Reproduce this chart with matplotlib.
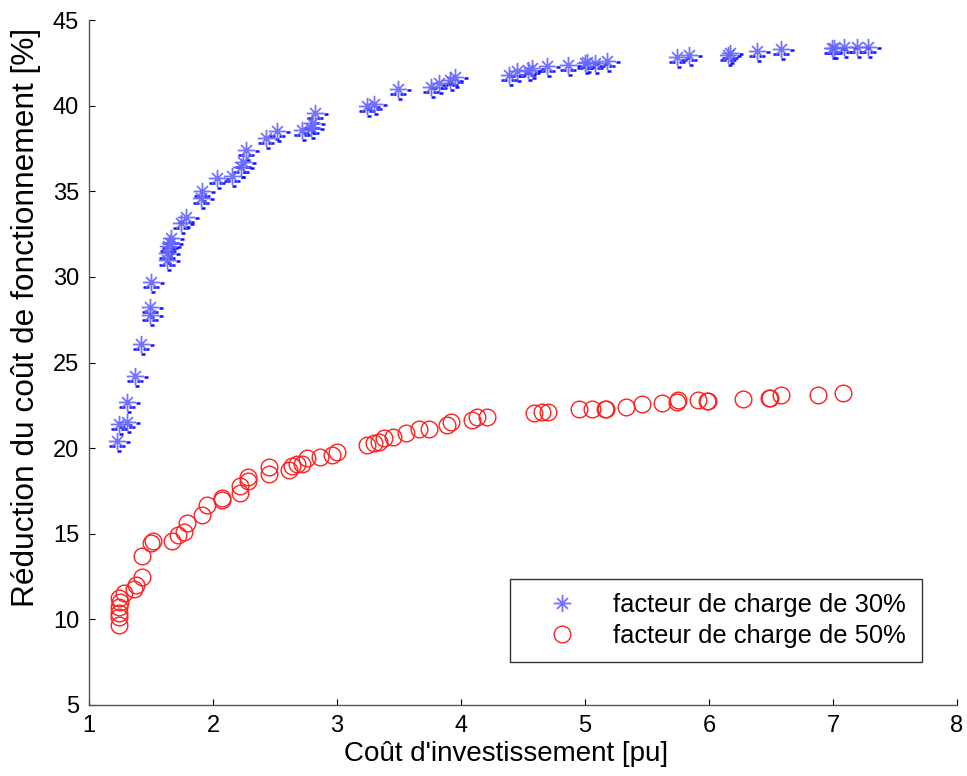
import matplotlib
matplotlib.use("Agg")
import matplotlib.pyplot as plt
from matplotlib.path import Path

plt.rcParams['font.family'] = ['Liberation Sans', 'DejaVu Sans']

x30 = [1.23, 1.24, 1.31, 1.31, 1.37, 1.42, 1.49, 1.49, 1.50, 1.63, 1.63, 1.64, 1.65, 1.66,
       1.74, 1.78, 1.90, 1.91, 2.03, 2.15, 2.23, 2.24, 2.27, 2.43, 2.52, 2.72, 2.79, 2.80, 2.82,
       3.24, 3.30, 3.49, 3.76, 3.82, 3.91, 3.95, 4.39, 4.45, 4.54, 4.57, 4.69,
       4.86, 5.00, 5.02, 5.08, 5.18, 5.74, 5.84, 6.15, 6.17, 6.39, 6.58,
       6.99, 7.01, 7.09, 7.19, 7.28]
y30 = [20.4, 21.4, 21.5, 22.7, 24.2, 26.1, 27.8, 28.25, 29.7, 31.0, 31.4, 31.8, 32.0, 32.3,
       33.15, 33.5, 34.6, 35.0, 35.8, 35.9, 36.4, 36.7, 37.4, 38.1, 38.5, 38.6, 38.7, 39.0, 39.6,
       40.0, 40.1, 41.0, 41.1, 41.3, 41.5, 41.7, 41.8, 42.0, 42.1, 42.2, 42.3,
       42.4, 42.5, 42.55, 42.5, 42.6, 42.85, 42.95, 42.95, 43.1, 43.2, 43.3,
       43.35, 43.35, 43.4, 43.4, 43.4]

x50 = [1.24, 1.24, 1.24, 1.24, 1.25, 1.24, 1.28, 1.36, 1.38, 1.43, 1.43, 1.50, 1.52,
       1.67, 1.72, 1.77, 1.79, 1.91, 1.95, 2.07, 2.07, 2.22, 2.22, 2.28, 2.28, 2.45, 2.45,
       2.61, 2.64, 2.68, 2.72, 2.76, 2.86, 2.96, 3.00, 3.24, 3.30, 3.34, 3.38,
       3.45, 3.56, 3.66, 3.74, 3.89, 3.92, 4.09, 4.13, 4.21, 4.59, 4.65, 4.70,
       4.95, 5.06, 5.16, 5.17, 5.33, 5.46, 5.62, 5.74, 5.75, 5.91, 5.98, 5.99,
       6.27, 6.48, 6.49, 6.58, 6.88, 7.08]
y50 = [9.7, 10.15, 10.4, 10.7, 11.0, 11.25, 11.55, 11.8, 12.0, 12.5, 13.7, 14.47, 14.55,
       14.6, 14.95, 15.1, 15.6, 16.1, 16.7, 16.95, 17.1, 17.4, 17.8, 18.1, 18.3, 18.5, 18.9,
       18.7, 18.96, 19.1, 19.1, 19.4, 19.5, 19.6, 19.8, 20.2, 20.3, 20.35, 20.6,
       20.65, 20.9, 21.1, 21.1, 21.35, 21.5, 21.65, 21.8, 21.8, 22.05, 22.1, 22.1,
       22.3, 22.3, 22.3, 22.3, 22.4, 22.6, 22.65, 22.7, 22.8, 22.8, 22.75, 22.75,
       22.9, 22.95, 22.95, 23.1, 23.1, 23.2]

label30 = 'facteur de charge de 30%'
label50 = 'facteur de charge de 50%'
xticks = [1, 2, 3, 4, 5, 6, 7, 8]
yticks = [5, 10, 15, 20, 25, 30, 35, 40, 45]

# MATLAB-like asterisk marker (long "+" arms and short "x" arms)
M, L = Path.MOVETO, Path.LINETO
ast_path = Path([(-8, 0), (8, 0), (0, -8), (0, 8), (-5, -5), (5, 5), (-5, 5), (5, -5)],
                [M, L, M, L, M, L, M, L])
# the small dark dashes that the reference rendering shows under each asterisk
dash_path = Path([(8, -1), (12, -1), (2, -5), (7, -5), (-7, -5), (-2, -5), (0, -9), (4, -9),
                  (-12, 12), (-12, 12)],
                 [M, L, M, L, M, L, M, L, M, L])

ast_ms = 12.5
dash_ms = ast_ms * 12 / 8

fig = plt.figure(figsize=(9.67, 7.76), dpi=100)
ax = fig.add_axes([0.092, 0.0915, 0.8977, 0.8826])

ax.plot(x30, y30, linestyle='none', marker=dash_path, markersize=dash_ms,
        markeredgewidth=1.8, color='#1010ff')
ax.plot(x30, y30, linestyle='none', marker=ast_path, markersize=ast_ms,
        markeredgewidth=1.3, color='#6464ff', alpha=0.9, label=label30)
ax.plot(x50, y50, linestyle='none', marker='o', markersize=12,
        markerfacecolor='none', markeredgewidth=1.0, markeredgecolor='#ff2020', label=label50)

ax.set_xlim(1, 8)
ax.set_ylim(5, 45)
ax.set_xticks(xticks)
ax.set_yticks(yticks)
ax.tick_params(direction='in', length=4, labelsize=17, pad=7, color='black')
for s in ['top', 'right']:
    ax.spines[s].set_visible(False)
for s in ['left', 'bottom']:
    ax.spines[s].set_color('#555555')
    ax.spines[s].set_linewidth(1.0)

ax.set_xlabel("Coût d'investissement [pu]", fontsize=20)
ax.set_ylabel("Réduction du coût de fonctionnement [%]", fontsize=22.8)
ax.xaxis.set_label_coords(0.48, -0.052)
ax.yaxis.set_label_coords(-0.055, 0.566)

leg = ax.legend(loc='lower left', bbox_to_anchor=(0.485, 0.063, 0.475, 0.124), mode='expand',
                fontsize=18.4, frameon=True, fancybox=False, borderpad=0.55,
                handlelength=3.0, handletextpad=0.5, labelspacing=0.25, borderaxespad=0)
leg.get_frame().set_edgecolor('black')
leg.get_frame().set_linewidth(1.0)

fig.savefig('out.png', dpi=100)
